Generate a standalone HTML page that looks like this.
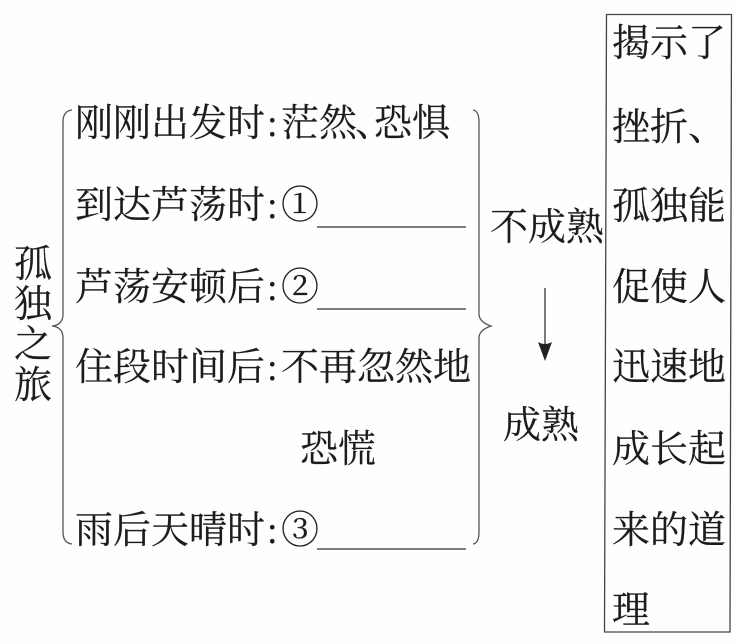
<!DOCTYPE html>
<html><head><meta charset="utf-8">
<style>
html,body{margin:0;padding:0;background:#fff}
#c{position:relative;width:737px;height:644px;overflow:hidden;background:#fefefe;font-family:"Liberation Serif","Noto Serif CJK SC",serif;color:#1c1c1c;-webkit-text-stroke:0.2px #1c1c1c}
.t{position:absolute;font-size:38px;line-height:40px;height:40px;white-space:nowrap}
svg{position:absolute;left:0;top:0}
</style></head><body><div id="c">
<svg width="737" height="644" fill="none" stroke="#555" stroke-width="1.3">
<path d="M72 110Q63 111 63 122V314Q63 325 52 326Q63 327 63 338V532Q63 543 72 544"/>
<path d="M473 110Q479 111 479 122V314Q479 322 491 326Q479 330 479 338V532Q479 543 473 544"/>
<path d="M606.5 14.5L731.5 14.5L730 632L604.5 632Z" stroke="#444"/>
<path d="M317 227H466M317 309H466M317 549H466" stroke="#333"/>
<path d="M545 288V345" stroke="#333"/>
<path d="M538 342L545 361L552 342Q545 346 538 342Z" fill="#222" stroke="none"/>
</svg>
<div class="t" style="left:14px;top:245px">孤</div>
<div class="t" style="left:14px;top:285px">独</div>
<div class="t" style="left:14px;top:325px">之</div>
<div class="t" style="left:14px;top:366px">旅</div>
<div class="t" style="left:75px;top:104px">刚刚出发时</div>
<div class="t" style="left:267px;top:104px">:</div>
<div class="t" style="left:281px;top:104px">茫然</div>
<div class="t" style="left:355px;top:104px;letter-spacing:0">、</div>
<div class="t" style="left:374px;top:104px">恐惧</div>
<div class="t" style="left:75px;top:186px">到达芦荡时</div>
<div class="t" style="left:267px;top:186px">:</div>
<div class="t" style="left:281px;top:186px">①</div>
<div class="t" style="left:75px;top:268px">芦荡安顿后</div>
<div class="t" style="left:267px;top:268px">:</div>
<div class="t" style="left:281px;top:268px">②</div>
<div class="t" style="left:75px;top:348px">住段时间后</div>
<div class="t" style="left:267px;top:348px">:</div>
<div class="t" style="left:281px;top:348px">不再忽然地</div>
<div class="t" style="left:300px;top:430px">恐慌</div>
<div class="t" style="left:75px;top:511px">雨后天晴时</div>
<div class="t" style="left:267px;top:511px">:</div>
<div class="t" style="left:281px;top:511px">③</div>
<div class="t" style="left:490px;top:208px">不成熟</div>
<div class="t" style="left:503px;top:406px">成熟</div>
<div class="t" style="left:612px;top:24px">揭示了</div>
<div class="t" style="left:612px;top:108px">挫折、</div>
<div class="t" style="left:612px;top:187px">孤独能</div>
<div class="t" style="left:612px;top:268px">促使人</div>
<div class="t" style="left:612px;top:348px">迅速地</div>
<div class="t" style="left:612px;top:430px">成长起</div>
<div class="t" style="left:612px;top:511px">来的道</div>
<div class="t" style="left:612px;top:591px">理</div>
</div></body></html>
